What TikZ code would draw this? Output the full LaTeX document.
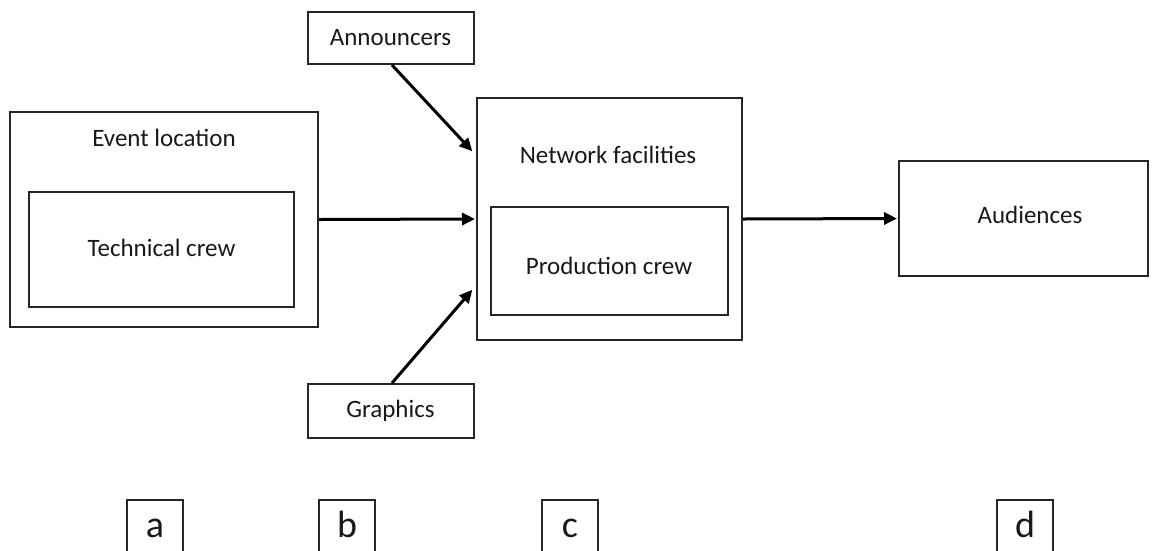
\documentclass[tikz,border=0pt]{standalone}
\usepackage{fontspec}
\setmainfont{Carlito}
\usetikzlibrary{arrows.meta,calc}
\begin{document}
\begin{tikzpicture}[x=1pt,y=1pt,
  box/.style={draw=black!85,line width=2pt,fill=none,inner sep=0pt},
  lbl/.style={font=\fontsize{25}{30}\selectfont,text=black!90,inner sep=0pt},
  big/.style={font=\fontsize{38}{46}\selectfont,text=black!90,inner sep=0pt,anchor=base},
  arr/.style={line width=3pt,-{Triangle[length=13pt,width=12pt]},shorten >=1pt}
]
\useasboundingbox (0,0) rectangle (1158,-550);
\clip (0,0) rectangle (1158,-550);
% Event location
\node[box,minimum width=308,minimum height=215] (ev) at (164,-219.5) {};
\node[lbl] (evl) at (164,-138) {Event location};
\node[box,minimum width=265,minimum height=115] (tech) at (161.5,-249.5) {};
\node[lbl] (techl) at (161.5,-248) {Technical crew};
% Network facilities
\node[box,minimum width=265,minimum height=242] (net) at (609.5,-219) {};
\node[lbl] (netl) at (608,-155) {Network facilities};
\node[box,minimum width=237,minimum height=108] (prod) at (609,-261) {};
\node[lbl] (prodl) at (609,-266) {Production crew};
% Announcers / Graphics
\node[box,minimum width=166,minimum height=52,lbl] (ann) at (390.5,-38) {Announcers};
\node[box,minimum width=166,minimum height=54,lbl] (gra) at (390.5,-411) {Graphics};
% Audiences
\node[box,minimum width=249,minimum height=115] (aud) at (1023.5,-218.5) {};
\node[lbl] (audl) at (1030,-215) {Audiences};
% bottom letter boxes
\foreach \n/\x in {a/155,b/347,c/570,d/1025}{
  \node[box,minimum width=56,minimum height=60] (\n box) at (\x,-530) {};
  \node[big] (\n) at (\x,-537) {\n};
}
% arrows
\draw[arr] (ev.east) -- (net.west);
\draw[arr] (net.east) -- (aud.west);
\draw[arr] ($(ann.south)+(1.5,0)$) -- ($(net.north west)+(-3,-55)$);
\draw[arr] ($(gra.north)+(1.5,0)$) -- ($(net.south west)+(-3,52)$);
\end{tikzpicture}
\end{document}
